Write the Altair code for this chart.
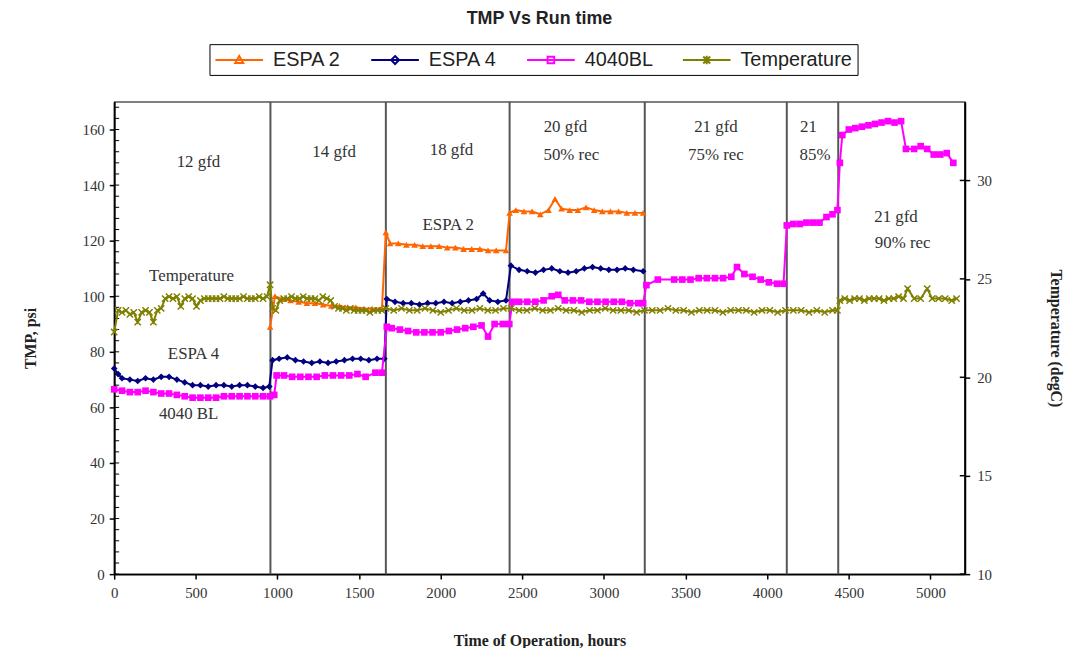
import altair as alt
import pandas as pd

# ---------------- data ----------------
espa2_hours = [955, 985, 1030, 1080, 1130, 1180, 1230, 1280, 1330, 1380, 1430, 1480, 1530, 1580, 1640,
               1664, 1690, 1740, 1790, 1840, 1890, 1940, 1990, 2040, 2090, 2140, 2190, 2240, 2290, 2340, 2400,
               2422, 2460, 2510, 2560, 2610, 2660, 2700, 2740, 2790, 2840, 2890, 2940, 2990, 3040, 3090, 3140, 3190, 3240]
espa2_tmp = [89, 100, 99, 98.5, 98, 97.5, 97.5, 97, 96.5, 96.5, 96, 96, 95.5, 95.5, 95.5,
             123, 119, 119, 118.5, 118.5, 118, 118, 118, 117.5, 117.5, 117, 117, 117, 116.5, 116.5, 116.5,
             130, 131, 130.5, 130.5, 129.5, 131, 135, 131.5, 131, 131, 132, 131, 130.5, 130.5, 130.5, 130, 130, 130]

espa4_hours = [0, 24, 48, 96, 144, 192, 240, 288, 336, 384, 432, 480, 528, 576, 624, 672, 720, 768, 816, 864, 912, 950,
               970, 1010, 1060, 1110, 1160, 1210, 1260, 1310, 1360, 1410, 1460, 1510, 1560, 1610, 1655,
               1670, 1720, 1770, 1820, 1870, 1920, 1970, 2020, 2070, 2120, 2170, 2220, 2260, 2300, 2350, 2400,
               2430, 2480, 2530, 2580, 2630, 2680, 2730, 2780, 2830, 2880, 2930, 2980, 3030, 3080, 3130, 3180, 3240]
espa4_tmp = [74, 72, 70.5, 70, 69.5, 70.5, 70, 71, 71, 70, 69, 68, 68, 67.5, 68, 68, 67.5, 68, 68, 67.5, 67, 67.5,
             77, 77.5, 78, 77, 76.5, 76, 76.5, 76, 76.5, 77, 77.5, 77.5, 77, 77.5, 77.5,
             99, 98, 97.5, 97.5, 97, 97.5, 97.5, 98, 97.5, 98, 98.5, 99, 101, 98.5, 98, 98.5,
             111, 109.5, 109, 108.5, 109.5, 110, 109, 108.5, 109, 110, 110.5, 110, 109.5, 109.5, 110, 109.5, 109]

bl_hours = [0, 48, 96, 144, 192, 240, 288, 336, 384, 432, 480, 528, 576, 624, 672, 720, 768, 816, 864, 912, 955, 980,
            995, 1040, 1090, 1140, 1190, 1240, 1290, 1340, 1390, 1440, 1490, 1540, 1600, 1640,
            1670, 1700, 1750, 1800, 1850, 1900, 1950, 2000, 2050, 2100, 2150, 2200, 2250, 2290, 2330, 2380, 2420,
            2440, 2480, 2530, 2580, 2630, 2680, 2720, 2760, 2810, 2860, 2910, 2960, 3010, 3060, 3110, 3160, 3210, 3240,
            3260, 3330, 3430, 3480, 3530, 3580, 3630, 3680, 3730, 3780, 3815, 3860, 3910, 3960, 4010, 4060, 4100,
            4120, 4160, 4200, 4240, 4280, 4320, 4363, 4400, 4430,
            4445, 4460, 4500, 4540, 4580, 4620, 4660, 4700, 4740, 4780, 4820, 4850, 4900, 4940, 4980, 5020, 5060, 5100, 5140]
bl_tmp = [66.5, 66, 65.5, 65.5, 66, 65.5, 65, 65, 64.5, 64, 63.5, 63.5, 63.5, 63.5, 64, 64, 64, 64, 64, 64, 64, 64.5,
          71.5, 71.5, 71, 71, 71, 71, 71.5, 71.5, 71.5, 71.5, 72, 71, 72.5, 72.5,
          89, 88.5, 88, 87.5, 87, 87, 87, 87, 87.5, 88, 88.5, 89, 89.5, 85.5, 90, 90, 90,
          98, 98, 98, 98, 98.5, 100, 100.5, 98.5, 98.5, 98.5, 98, 98, 98, 98, 98, 97.5, 97.5, 97.5,
          104, 106, 106, 106, 106, 106.5, 106.5, 106.5, 106.5, 107, 110.5, 108, 107, 106, 105, 104.5, 104.5,
          125.5, 126, 126, 126.5, 126.5, 126.5, 128.5, 129.5, 131,
          148, 158, 160, 160.5, 161, 161.5, 162, 162.5, 163, 162.5, 163, 153, 153, 154, 153, 151, 151, 151.5, 148]

temp_hours = [0, 24, 48, 72, 96, 120, 144, 168, 192, 216, 240, 264, 288, 312, 336, 360, 384, 408, 432, 456,
              480, 504, 528, 552, 576, 600, 624, 648, 672, 696, 720, 744, 768, 792, 816, 840, 864, 888, 912, 936, 955,
              970, 990, 1014, 1038, 1062, 1086, 1110, 1134, 1158, 1182, 1206, 1230, 1254, 1278, 1302, 1326, 1350,
              1374, 1398, 1422, 1446, 1470, 1494, 1518, 1542, 1566, 1590, 1614, 1640,
              1664, 1712, 1760, 1808, 1856, 1904, 1952, 2000, 2048, 2096, 2144, 2192, 2240, 2288, 2336, 2384,
              2432, 2480, 2528, 2576, 2624, 2672, 2720, 2768, 2816, 2864, 2912, 2960, 3008, 3056, 3104, 3152,
              3200, 3248, 3296, 3344, 3392, 3440, 3488, 3536, 3584, 3632, 3680, 3728, 3776, 3824, 3872, 3920,
              3968, 4016, 4064, 4112, 4160, 4208, 4256, 4304, 4352, 4400, 4430,
              4445, 4475, 4505, 4535, 4565, 4595, 4625, 4655, 4685, 4715, 4745, 4775, 4805, 4835, 4860, 4900,
              4940, 4980, 5010, 5050, 5090, 5130, 5160]
temp_degc = [22.3, 23.4, 23.3, 23.4, 23.2, 23.3, 22.8, 23.3, 23.4, 23.3, 22.8, 23.4, 23.5, 24.0, 24.1, 24.0,
             24.1, 23.6, 24.0, 24.1, 24.0, 23.6, 23.9, 24.0, 24.0, 24.0, 24.0, 24.0, 24.1, 24.0, 24.0, 24.0,
             24.0, 24.1, 24.0, 24.0, 24.0, 24.1, 24.0, 24.1, 24.7,
             23.5, 23.4, 23.9, 24.0, 24.0, 24.1, 24.0, 24.0, 24.1, 24.0, 24.0, 24.0, 23.9, 24.1, 24.0, 23.9, 23.6,
             23.5, 23.5, 23.4, 23.5, 23.4, 23.4, 23.4, 23.4, 23.3, 23.4, 23.4, 23.4,
             23.5, 23.4, 23.5, 23.4, 23.4, 23.5, 23.4, 23.3, 23.4, 23.5,
             23.4, 23.4, 23.5, 23.4, 23.4, 23.5, 23.5, 23.4, 23.4, 23.5,
             23.4, 23.4, 23.5, 23.4, 23.4, 23.3, 23.4, 23.4, 23.5, 23.4,
             23.4, 23.4, 23.3, 23.4, 23.4, 23.4, 23.5, 23.4, 23.4, 23.3,
             23.4, 23.4, 23.4, 23.3, 23.4, 23.4, 23.4, 23.3, 23.4, 23.4,
             23.3, 23.4, 23.4, 23.4, 23.3, 23.4, 23.3, 23.4, 23.4,
             23.9, 24.0, 23.9, 24.0, 24.0, 23.9, 24.0, 24.0, 24.0, 23.9, 24.0, 24.0, 24.1, 24.0, 24.5, 24.0,
             24.0, 24.5, 24.0, 24.0, 24.0, 23.9, 24.0]

phase_hours = [957, 1664, 2422, 3250, 4120, 4435]

ann_labels = ["12 gfd", "14 gfd", "18 gfd", "20 gfd", "50% rec", "21 gfd", "75% rec", "21", "85%",
              "21 gfd", "90% rec", "Temperature", "ESPA 4", "4040 BL", "ESPA 2"]
ann_hours = [516, 1347, 2066, 2764, 2800, 3686, 3686, 4253, 4293, 4789, 4830, 474, 486, 456, 2046]
ann_tmp = [148.3, 151.9, 152.5, 160.8, 150.7, 160.8, 150.7, 160.8, 150.7, 128.6, 119.1, 107.1, 79.1, 57.6, 125.6]

series_names = ["ESPA 2", "ESPA 4", "4040BL", "Temperature"]
series_colors = ["#FF6600", "#000080", "#FF00FF", "#808000"]

x_ticks = [0, 500, 1000, 1500, 2000, 2500, 3000, 3500, 4000, 4500, 5000]
left_ticks = [0, 20, 40, 60, 80, 100, 120, 140, 160]
left_minor = [0, 4, 8, 12, 16, 20, 24, 28, 32, 36, 40, 44, 48, 52, 56, 60, 64, 68, 72, 76, 80, 84, 88, 92,
              96, 100, 104, 108, 112, 116, 120, 124, 128, 132, 136, 140, 144, 148, 152, 156, 160, 164, 168]
right_ticks = [10, 15, 20, 25, 30]

# legend symbols: a line segment with the marker in its middle
legend_paths = [
    "M-1,0L3.8,0M1.4,-0.4L1.8,0.3L1.0,0.3Z",
    "M-1,0L3.8,0M1.4,-0.4L1.8,0L1.4,0.4L1.0,0Z",
    "M-1,0L3.8,0M1.07,-0.33L1.73,-0.33L1.73,0.33L1.07,0.33Z",
    "M-1,0L3.8,0M1.05,-0.35L1.75,0.35M1.05,0.35L1.75,-0.35M1.4,-0.42L1.4,0.42",
]

# ---------------- tables ----------------
tmp_df = pd.concat([
    pd.DataFrame({"hours": espa2_hours, "tmp": espa2_tmp, "series": "ESPA 2"}),
    pd.DataFrame({"hours": espa4_hours, "tmp": espa4_tmp, "series": "ESPA 4"}),
    pd.DataFrame({"hours": bl_hours, "tmp": bl_tmp, "series": "4040BL"}),
], ignore_index=True)
temp_df = pd.DataFrame({"hours": temp_hours, "degc": temp_degc, "series": "Temperature"})
phase_df = pd.DataFrame({"hours": phase_hours})
ann_df = pd.DataFrame({"hours": ann_hours, "tmp": ann_tmp, "label": ann_labels})
minor_df = pd.DataFrame({"tmp": left_minor})
rtick_df = pd.DataFrame({"degc": right_ticks})

W, H = 857, 476

x_enc = alt.X("hours:Q", scale=alt.Scale(domain=[0, 5210], nice=False, zero=False),
              axis=alt.Axis(values=x_ticks, format="d", title="Time of Operation, hours",
                            labelFlush=False, labelOverlap=False, labelPadding=7, titlePadding=32))
y_left = alt.Y("tmp:Q", scale=alt.Scale(domain=[0, 170], nice=False),
               axis=alt.Axis(values=left_ticks, title="TMP, psi", labelPadding=5, titlePadding=44))
y_right = alt.Y("degc:Q", scale=alt.Scale(domain=[10, 34], nice=False),
                axis=alt.Axis(orient="right", values=right_ticks, title="Temperature (degC)",
                              labelPadding=7, titlePadding=56))

phase_rules = alt.Chart(phase_df).mark_rule(color="#555555", strokeWidth=2).encode(x=x_enc)
minor_ticks = alt.Chart(minor_df).mark_rule(color="black", strokeWidth=1).encode(
    y=y_left, x=alt.value(0), x2=alt.value(5))
ann_text = alt.Chart(ann_df).mark_text(font="Liberation Serif", fontSize=17, color="#333333").encode(
    x=x_enc, y=y_left, text="label:N")


def series_layers(name, color, shape, size):
    base = alt.Chart(tmp_df).transform_filter(alt.datum.series == name)
    line = base.mark_line(color=color, strokeWidth=2).encode(x=x_enc, y=y_left)
    pts = base.mark_point(filled=True, color=color, shape=shape, size=size, opacity=1).encode(x=x_enc, y=y_left)
    return [line, pts]


s2 = series_layers("ESPA 2", series_colors[0], "triangle-up", 45)
s4 = series_layers("ESPA 4", series_colors[1], "diamond", 45)
sb = series_layers("4040BL", series_colors[2], "square", 45)

leg = alt.Legend(orient="none", legendX=96, legendY=-58, direction="horizontal", title=None,
                 strokeColor="black", padding=5, labelFont="Liberation Sans", labelFontSize=20,
                 labelColor="#222222", symbolSize=400, symbolStrokeWidth=2, columnPadding=26,
                 labelOffset=37, symbolOpacity=1)
# invisible marks that only carry the legend (line + marker symbols)
legend_layer = alt.Chart(tmp_df).mark_point(
    filled=False, strokeWidth=2, opacity=0).encode(
    x=x_enc, y=y_left,
    stroke=alt.Stroke("series:N", scale=alt.Scale(domain=series_names, range=series_colors), legend=leg),
    shape=alt.Shape("series:N", scale=alt.Scale(domain=series_names, range=legend_paths), legend=leg),
)

left = alt.layer(phase_rules, minor_ticks, ann_text, *s2, *s4, *sb, legend_layer)

temp_line = alt.Chart(temp_df).mark_line(color=series_colors[3], strokeWidth=2).encode(x=x_enc, y=y_right)
temp_pts = alt.Chart(temp_df).mark_point(
    filled=False, color=series_colors[3], shape="M-1,-1L1,1M-1,1L1,-1", size=40, strokeWidth=1.5,
    opacity=1).encode(x=x_enc, y=y_right)
rticks = alt.Chart(rtick_df).mark_rule(color="black", strokeWidth=1.5).encode(
    y=y_right, x=alt.value(W - 5), x2=alt.value(W))
right = alt.layer(temp_line, temp_pts, rticks)

chart = alt.layer(left, right).resolve_scale(y="independent").properties(
    width=W, height=H,
    autosize=alt.AutoSizeParams(type="none"),
    padding={"left": 107, "top": 92, "right": 100, "bottom": 72},
    title=alt.Title("TMP Vs Run time", anchor="middle", frame="group", offset=16),
).configure_view(stroke="black", strokeWidth=1.2).configure_axis(
    labelFont="Liberation Serif", labelFontSize=15, labelColor="#333333",
    titleFont="Liberation Serif", titleFontSize=16, titleFontWeight="bold", titleColor="#222222",
    domainColor="black", domainWidth=2, tickColor="black", tickWidth=1.5, tickSize=5, grid=False,
).configure_title(font="Liberation Sans", fontSize=18, fontWeight="bold", color="#222222")

chart.save("out.html", embed_options={"renderer": "svg", "actions": False})
